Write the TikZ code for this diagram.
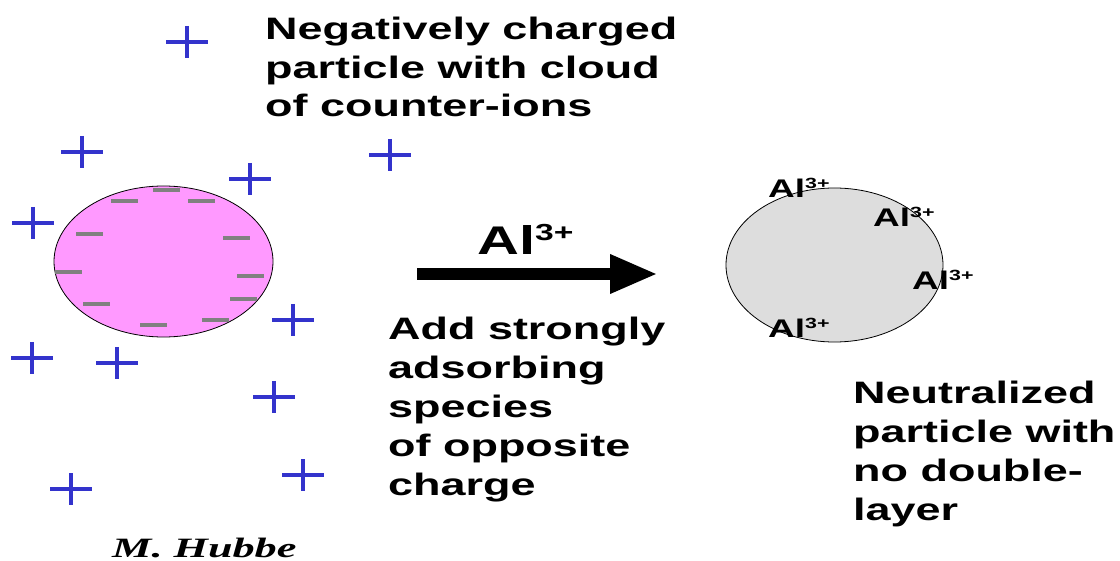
\documentclass[tikz,border=0pt]{standalone}
\usepackage{fontspec}
\usetikzlibrary{shapes.geometric,arrows.meta}
\newfontfamily\wf[FakeStretch=1.45]{Liberation Sans}
\newfontfamily\hf[FakeStretch=1.58]{Liberation Serif}
\definecolor{pluscol}{HTML}{3333CC}
\definecolor{pinkfill}{HTML}{FF99FF}
\definecolor{minuscol}{HTML}{808080}
\definecolor{greyfill}{HTML}{DDDDDD}
\newcommand\supp[1]{\raisebox{0.36em}{\scalebox{0.58}{#1}}}
\tikzset{
  pplus/.pic={\draw[pluscol,line width=4.5pt] (-21,0)--(21,0) (0,-16)--(0,16);},
  mminus/.pic={\fill[minuscol] (-13.5,-2) rectangle (13.5,2);},
  txt/.style={font=\wf\bfseries\fontsize{31}{39}\selectfont, inner sep=0pt, anchor=base west, align=left},
  ion/.style={font=\wf\bfseries\fontsize{25.5}{30}\selectfont, inner sep=0pt, anchor=base west},
  bigion/.style={font=\wf\bfseries\fontsize{40}{48}\selectfont, inner sep=0pt, anchor=base west},
  particle/.style={ellipse, draw=black, line width=0.8pt, inner sep=0pt},
}
\begin{document}
\begin{tikzpicture}[x=1pt,y=-1pt]
\useasboundingbox (0,0) rectangle (1120,561);
% charged particle
\node[particle, fill=pinkfill, minimum width=219pt, minimum height=151pt] (p1) at (163.5,261.5) {};
\foreach \x/\y in {166/190,124/201,201/201,89/234,236/238,68/272,250/276,96/304,243/299,153/325,215/320}
  \pic at (\x,\y) {mminus};
\foreach \x/\y in {187/42,82/152,250/179,390/155,33/223,293/320,32/358,117/363,274/397,303/475,71/489}
  \pic at (\x,\y) {pplus};
% neutralized particle
\node[particle, fill=greyfill, minimum width=217pt, minimum height=154pt] (p2) at (834.5,265) {};
\node[ion] (i1) at (768,198) {Al\supp{3+}};
\node[ion] (i2) at (873,227) {Al\supp{3+}};
\node[ion] (i3) at (912,290) {Al\supp{3+}};
\node[ion] (i4) at (768,338) {Al\supp{3+}};
% arrow
\coordinate (a1) at (417,274);
\coordinate (a2) at (658,274);
\draw[line width=12pt, -{Triangle[length=48pt,width=36pt]}] (a1) -- (a2);
\node[bigion] (al) at (477,255) {Al\supp{3+}};
% texts (anchor at baseline of last line)
\node[txt, font=\wf\bfseries\fontsize{31}{38.5}\selectfont] (t1) at (265,117) {Negatively charged\\particle with cloud\\of counter-ions};
\node[txt] (t2) at (388,495) {Add strongly\\adsorbing\\species\\of opposite\\charge};
\node[txt] (t3) at (853,520) {Neutralized\\particle with\\no double-\\layer};
\node[font=\hf\bfseries\itshape\fontsize{28}{32}\selectfont, inner sep=0pt, anchor=base west] (mh) at (112,557) {M. Hubbe};
\end{tikzpicture}
\end{document}
